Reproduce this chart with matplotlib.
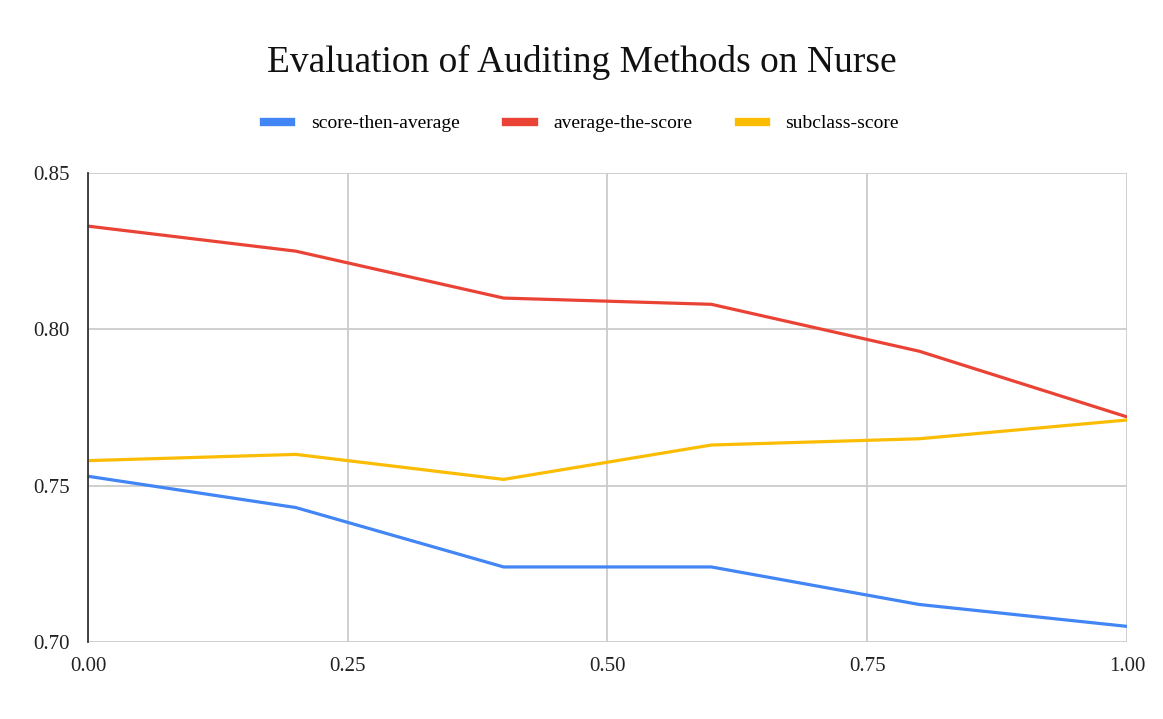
import matplotlib.pyplot as plt

# values
x = [0.0, 0.2, 0.4, 0.6, 0.8, 1.0]
score_then_average = [0.753, 0.743, 0.724, 0.724, 0.712, 0.705]
average_the_score = [0.833, 0.825, 0.810, 0.808, 0.793, 0.772]
subclass_score = [0.758, 0.760, 0.752, 0.763, 0.765, 0.771]

x_ticks = [0.0, 0.25, 0.5, 0.75, 1.0]
y_ticks = [0.70, 0.75, 0.80, 0.85]

plt.rcParams['font.family'] = ['Liberation Serif', 'DejaVu Serif']

fig = plt.figure(figsize=(11.63, 7.19), dpi=100)
ax = fig.add_axes([0.0757, 0.1071, 0.8933, 0.6523])

ax.plot(x, score_then_average, color='#4285F4', lw=2.3, label='score-then-average')
ax.plot(x, average_the_score, color='#EA4335', lw=2.3, label='average-the-score')
ax.plot(x, subclass_score, color='#FBBC04', lw=2.3, label='subclass-score')

ax.set_xlim(0, 1)
ax.set_ylim(0.70, 0.85)
ax.set_xticks(x_ticks)
ax.set_xticklabels([f"{t:.2f}" for t in x_ticks])
ax.set_yticks(y_ticks)
ax.set_yticklabels([f"{t:.2f}" for t in y_ticks])
ax.tick_params(length=0, labelsize=15, colors='#222222')
ax.tick_params(axis='x', pad=11)
ax.tick_params(axis='y', pad=13)

ax.grid(True, color='#cccccc', lw=1.3)
ax.set_axisbelow(True)
for side in ['top', 'right', 'bottom']:
    ax.spines[side].set_visible(False)
ax.spines['left'].set_color('#333333')
ax.spines['left'].set_linewidth(1.3)

fig.suptitle("Evaluation of Auditing Methods on Nurse", y=0.937, fontsize=27, color='#111111')
leg = fig.legend(loc='center', bbox_to_anchor=(0.5, 0.828), ncol=3, frameon=False,
                 fontsize=14, handlelength=1.4, columnspacing=2.4, handletextpad=1.0)
for line in leg.get_lines():
    line.set_linewidth(6)

fig.savefig("out.png", dpi=100)
